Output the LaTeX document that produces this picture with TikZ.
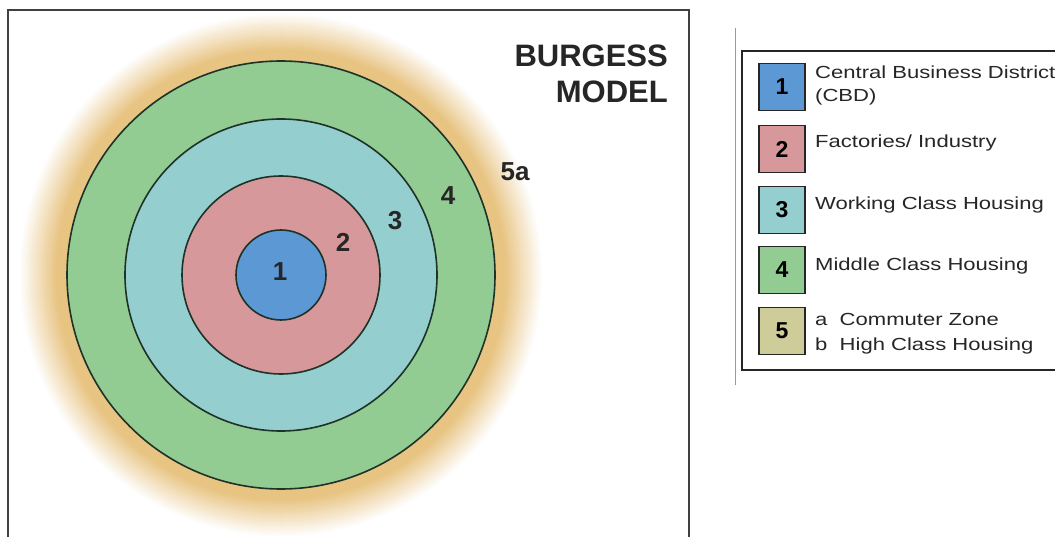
\documentclass[tikz,border=0pt]{standalone}
\usepackage{fontspec}
\setmainfont{Liberation Sans}
\newfontfamily\legfont[FakeStretch=1.26]{Liberation Sans}
\definecolor{cbd}{RGB}{92,152,212}
\definecolor{fact}{RGB}{214,152,154}
\definecolor{work}{RGB}{148,206,206}
\definecolor{mid}{RGB}{146,204,146}
\definecolor{comm}{RGB}{206,204,152}
\definecolor{halo}{RGB}{232,196,130}
\definecolor{ringline}{RGB}{30,50,40}
\tikzset{
  ring/.style={draw=ringline, line width=1.6pt},
  zonenum/.style={font=\bfseries\fontsize{26}{26}\selectfont, text=black!85, inner sep=0pt},
  swatch/.style={draw=black!85, line width=1.2pt, minimum width=46pt, minimum height=47pt, inner sep=0pt, font=\bfseries\fontsize{23}{23}\selectfont},
  legtext/.style={font=\legfont\fontsize{17.5}{23}\selectfont, text=black!85, inner sep=0pt, align=left},
  frame/.style={draw=black!75, line width=1.8pt}
}
\begin{document}
\begin{tikzpicture}[x=1pt,y=-1pt]
\useasboundingbox (0,0) rectangle (1055,537);
\fill[white] (0,0) rectangle (1055,537);
\coordinate (c) at (281,275);
% halo
\foreach \r in {262,261,...,215}{
  \pgfmathsetmacro\p{min(100,(262-\r)*2.7)}
  \fill[halo!\p!white] (c) circle (\r);
}
% rings
\filldraw[ring, fill=mid] (c) circle (214);
\filldraw[ring, fill=work] (c) circle (156);
\filldraw[ring, fill=fact] (c) circle (99);
\filldraw[ring, fill=cbd] (c) circle (45);
% zone labels
\node[zonenum] (n1) at (280,272) {1};
\node[zonenum] (n2) at (343,242) {2};
\node[zonenum] (n3) at (395,221) {3};
\node[zonenum] (n4) at (448,196) {4};
\node[zonenum] (n5a) at (515,172) {5a};
% title
\node[anchor=north east, align=right, inner sep=0pt, font=\bfseries\fontsize{31}{36}\selectfont, text=black!85] (title) at (668,45) {BURGESS\\MODEL};
% frame
\draw[frame] (8,545) -- (8,10) -- (689,10) -- (689,545);
% legend
\draw[draw=black!40, line width=1pt] (735,28) -- (735,385);
\draw[frame, draw=black!85] (1065,51) -- (742,51) -- (742,370) -- (1065,370);
\node[swatch, fill=cbd] (s1) at (782,87) {1};
\node[swatch, fill=fact] (s2) at (782,149) {2};
\node[swatch, fill=work] (s3) at (782,210) {3};
\node[swatch, fill=mid] (s4) at (782,270) {4};
\node[swatch, fill=comm] (s5) at (782,331) {5};
\node[legtext, anchor=north west] (t1) at (815,66) {Central Business District\\(CBD)};
\node[legtext, anchor=base west] (t2) at (815,148) {Factories/ Industry};
\node[legtext, anchor=base west] (t3) at (815,210) {Working Class Housing};
\node[legtext, anchor=base west] (t4) at (815,271) {Middle Class Housing};
\node[legtext, anchor=north west, font=\legfont\fontsize{17.5}{25}\selectfont] (t5) at (815,313) {a\ \ Commuter Zone\\b\ \ High Class Housing};
\end{tikzpicture}
\end{document}
